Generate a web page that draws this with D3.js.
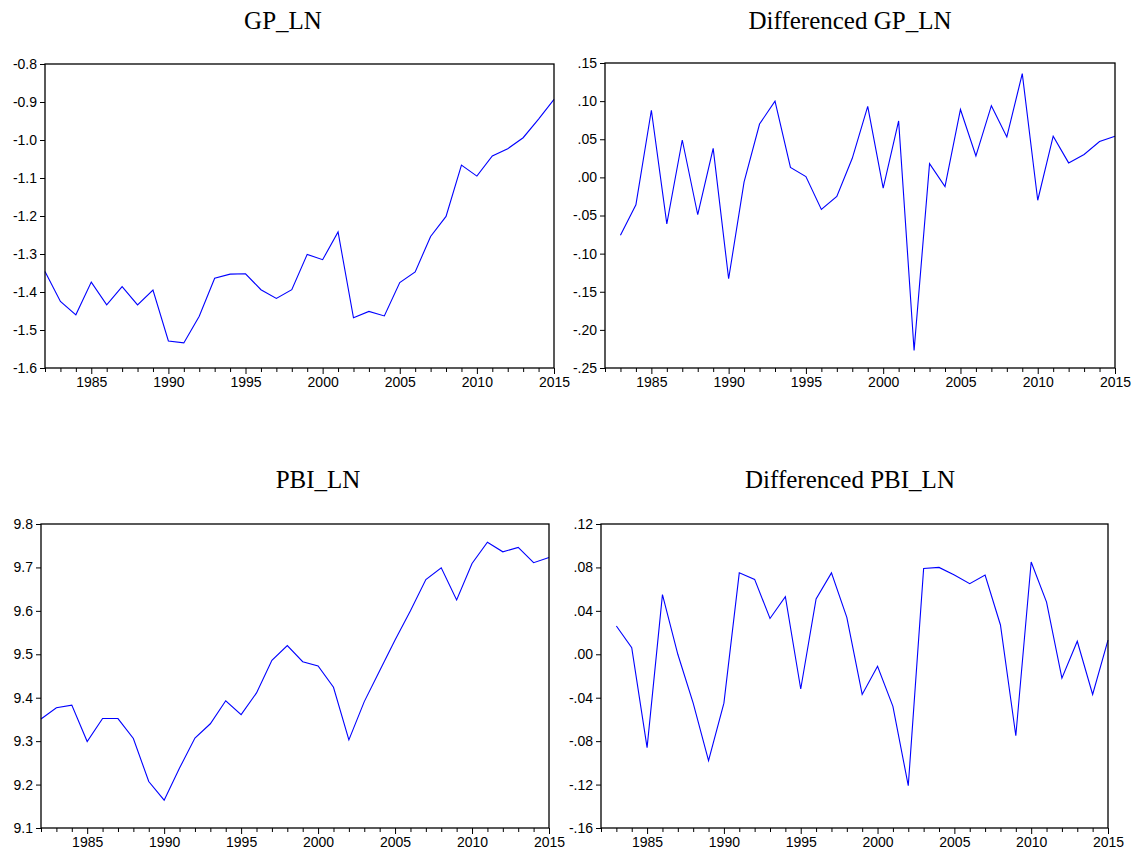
<!DOCTYPE html>
<html>
<head>
<meta charset="utf-8">
<script src="https://cdn.jsdelivr.net/npm/d3@7"></script>
<style>
  body { margin: 0; background: #fff; }
  svg { display: block; }
</style>
</head>
<body>
<script>
const years = d3.range(1982, 2016)

// log levels, 1982-2015
const gpLn = [-1.346, -1.425, -1.460, -1.374, -1.434, -1.386, -1.434, -1.395, -1.529, -1.534,
              -1.464, -1.364, -1.353, -1.352, -1.394, -1.417, -1.394, -1.301, -1.315, -1.242,
              -1.468, -1.451, -1.463, -1.375, -1.347, -1.254, -1.201, -1.066, -1.095, -1.042,
              -1.023, -0.994, -0.945, -0.893]
const pbiLn = [9.351, 9.377, 9.383, 9.299, 9.352, 9.352, 9.306, 9.207, 9.164, 9.238,
               9.307, 9.340, 9.393, 9.361, 9.411, 9.486, 9.520, 9.483, 9.473, 9.424,
               9.303, 9.391, 9.462, 9.533, 9.600, 9.672, 9.699, 9.625, 9.709, 9.758,
               9.736, 9.746, 9.711, 9.723]

// first differences, 1983-2015
const dGpLn = [-0.076, -0.036, 0.088, -0.061, 0.049, -0.049, 0.038, -0.133, -0.006, 0.070,
               0.100, 0.013, 0.001, -0.042, -0.025, 0.025, 0.093, -0.014, 0.074, -0.227,
               0.018, -0.012, 0.089, 0.028, 0.094, 0.053, 0.136, -0.030, 0.054, 0.019,
               0.030, 0.047, 0.054]
const dPbiLn = [0.026, 0.006, -0.086, 0.055, 0.000, -0.045, -0.098, -0.045, 0.075, 0.069,
                0.033, 0.053, -0.032, 0.051, 0.075, 0.034, -0.037, -0.011, -0.048, -0.121,
                0.079, 0.080, 0.073, 0.065, 0.073, 0.027, -0.075, 0.085, 0.048, -0.022,
                0.012, -0.037, 0.013]

const yearTicks = [1985, 1990, 1995, 2000, 2005, 2010, 2015]

// eviews style labels: plain hyphen, no leading zero for small numbers
const fmt1 = v => d3.format('.1f')(v).replace('\u2212', '-')
const fmtNoZero = v => d3.format('.2f')(v).replace('\u2212', '-').replace(/^(-?)0\./, '$1.')

const panels = [
  { title: 'GP_LN', titleX: 283, titleY: 29, box: [45, 554, 64, 368],
    x: years, y: gpLn, domain: [-1.6, -0.8], step: 0.1, fmt: fmt1 },
  { title: 'Differenced GP_LN', titleX: 850, titleY: 29, box: [605, 1115, 63, 368],
    x: years.slice(1), y: dGpLn, domain: [-0.25, 0.15], step: 0.05, fmt: fmtNoZero },
  { title: 'PBI_LN', titleX: 318, titleY: 488, box: [41, 549, 524, 828],
    x: years, y: pbiLn, domain: [9.1, 9.8], step: 0.1, fmt: fmt1 },
  { title: 'Differenced PBI_LN', titleX: 850, titleY: 488, box: [601, 1108, 524, 828],
    x: years.slice(1), y: dPbiLn, domain: [-0.16, 0.12], step: 0.04, fmt: fmtNoZero }
]

const svg = d3.select('body').append('svg')
  .attr('width', 1136)
  .attr('height', 856)

panels.forEach(p => {
  const [x0, x1, y0, y1] = p.box
  const xScale = d3.scaleLinear().domain([1982, 2015]).range([x0, x1])
  const yScale = d3.scaleLinear().domain(p.domain).range([y1, y0])
  const n = Math.round((p.domain[1] - p.domain[0]) / p.step)
  const yTicks = d3.range(n + 1).map(i => +(p.domain[0] + i * p.step).toFixed(4))

  const g = svg.append('g')

  // year ticks, every year, longer at 5-year marks
  const xAxis = d3.axisBottom(xScale)
    .tickValues(years)
    .tickSize(4)
    .tickFormat(d => yearTicks.includes(d) ? d : '')
  const gx = g.append('g')
    .attr('transform', `translate(0,${y1})`)
    .call(xAxis)
  gx.select('.domain').remove()
  gx.selectAll('.tick line')
    .attr('y2', d => yearTicks.includes(d) ? 6 : 4)
    .attr('stroke', '#000')
  gx.selectAll('.tick text')
    .attr('y', 9)
    .attr('font-family', 'Liberation Sans, Arial, sans-serif')
    .attr('font-size', 14)
    .attr('fill', '#000')

  const yAxis = d3.axisLeft(yScale)
    .tickValues(yTicks)
    .tickSize(5)
    .tickPadding(3)
    .tickFormat(p.fmt)
  const gy = g.append('g')
    .attr('transform', `translate(${x0},0)`)
    .call(yAxis)
  gy.select('.domain').remove()
  gy.selectAll('.tick line').attr('stroke', '#000')
  gy.selectAll('.tick text')
    .attr('font-family', 'Liberation Sans, Arial, sans-serif')
    .attr('font-size', 14)
    .attr('fill', '#000')

  // series line
  const line = d3.line()
    .x((d, i) => xScale(p.x[i]))
    .y(d => yScale(d))
  g.append('path')
    .datum(p.y)
    .attr('d', line)
    .attr('fill', 'none')
    .attr('stroke', '#0000ff')
    .attr('stroke-width', 1.1)

  // frame
  g.append('rect')
    .attr('x', x0)
    .attr('y', y0)
    .attr('width', x1 - x0)
    .attr('height', y1 - y0)
    .attr('fill', 'none')
    .attr('stroke', '#000')
    .attr('stroke-width', 1.3)

  g.append('text')
    .attr('x', p.titleX)
    .attr('y', p.titleY)
    .attr('text-anchor', 'middle')
    .attr('font-family', 'Liberation Serif, Times New Roman, serif')
    .attr('font-size', 25)
    .attr('fill', '#000')
    .text(p.title)
})
</script>
</body>
</html>
